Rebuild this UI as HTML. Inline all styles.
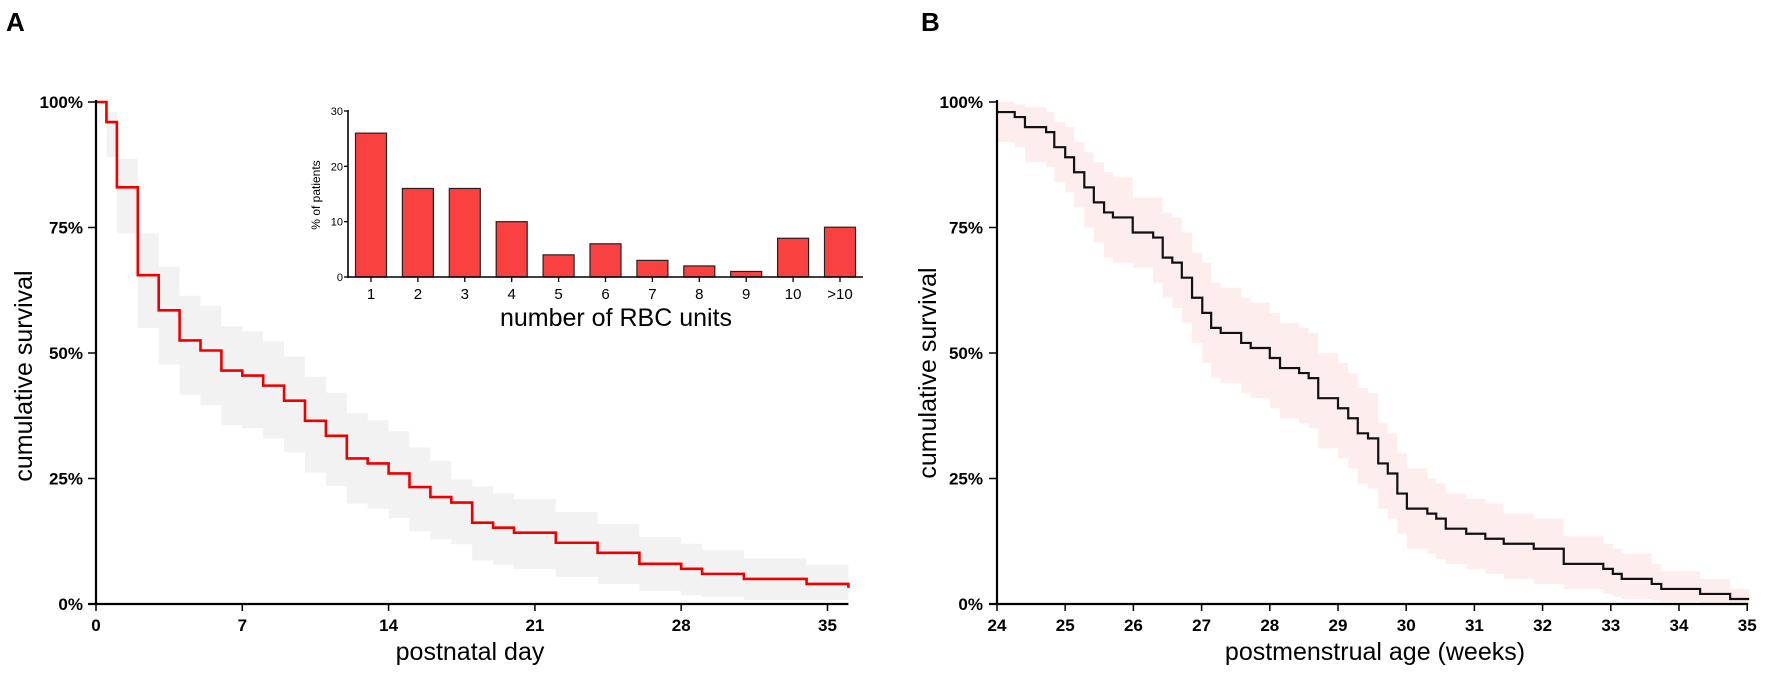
<!DOCTYPE html>
<html>
<head>
<meta charset="utf-8">
<style>
html,body{margin:0;padding:0;background:#fff;}
svg{display:block;}
text{font-family:"Liberation Sans",Arial,sans-serif;fill:#000;}
.tb{font-weight:bold;font-size:17px;}
</style>
</head>
<body>
<svg id="fig" width="1772" height="682" viewBox="0 0 1772 682" xmlns="http://www.w3.org/2000/svg"></svg>
<script>
// ---- Panel A data (postnatal day) ----
const aTimes = [0,0.5,1,2,3,4,5,6,7,8,9,10,11,12,13,14,15,16,17,18,19,20,22,24,26,28,29,31,34];
const aValues = [100,96,83,65.5,58.5,52.5,50.5,46.5,45.5,43.5,40.5,36.5,33.5,29,28,26,23.3,21.3,20.2,16.2,15.2,14.2,12.2,10.2,8,7,6,5,4];
const aUpper = [100,98,88.7,73.8,67.2,61.4,59.4,55.3,54.3,52.3,49.3,45.3,42.1,38,36.6,34.4,31.2,28.5,24.8,23.4,22,20.9,18.3,15.9,13.3,12,10.7,9.1,7.8];
const aLower = [100,89,73.8,55,47.7,41.7,39.6,35.6,35,33,30.2,26.2,23.5,20,19,17.1,14.5,12.9,11.9,8.7,7.8,7,5.4,4,2.6,1.8,1.4,0.8,0.8];
const aEnd = 36;
const aEndValue = 3.2;
const aXTicks = [0,7,14,21,28,35];
const yTicks = [0,25,50,75,100];
// ---- Inset data ----
const rbcCategories = ["1","2","3","4","5","6","7","8","9","10",">10"];
const rbcValues = [26,16,16,10,4,6,3,2,1,7,9];
const rbcYTicks = [0,10,20,30];
// ---- Panel B data (postmenstrual weeks) ----
const bTimes = [24,24.26,24.41,24.72,24.84,25.00,25.13,25.28,25.42,25.57,25.70,25.99,26.29,26.43,26.57,26.71,26.86,27.01,27.14,27.28,27.58,27.72,28.00,28.15,28.43,28.57,28.71,29.00,29.15,29.29,29.44,29.59,29.73,29.87,30.01,30.31,30.44,30.58,30.88,31.16,31.43,31.87,32.31,32.89,33.03,33.16,33.60,33.74,34.31,34.75];
const bValues = [98,97,95,94,91,89,86,83,80,78,77,74,73,69,68,65,61,58,55,54,52,51,49,47,46,45,41,39,37,34,33,28,26,22,19,18,17,15,14,13,12,11,8,7,6,5,4,3,2,1];
const bUpper = [100,99.5,99,98,96,95,92,90,88,86,85,81,81,78,77,74,70,68,64,63,61,60,58,56,55,54,50,48,46,43,42,36,34,30,27,25,24,22,21,20,18,17,13.5,12,11,10,8,6.5,5,3];
const bLower = [92,91,88,87,84,82,79,75,72,69,68,67,64,61,59,56,52,48,45,44,42,41,39,37,36,35,31,29,27,24,23,19,17,14,11,10,9,8,7,6,5,4,3,2,1.5,1,0.7,0.5,0.3,0.2];
const bEnd = 35.03;
const bXTicks = [24,25,26,27,28,29,30,31,32,33,34,35];

const NS = "http://www.w3.org/2000/svg";
const svg = document.getElementById("fig");
function mk(tag, attrs, parent){
  const e = document.createElementNS(NS, tag);
  for (const k in attrs) e.setAttribute(k, attrs[k]);
  (parent||svg).appendChild(e);
  return e;
}
function txt(s, attrs, parent){ const e = mk("text", attrs, parent); e.textContent = s; return e; }

// axis functions
const Y0 = 604, Y100 = 102;
const yPct = v => Y0 - (Y0 - Y100) * v / 100;
const axA = d => 96 + d * 20.9;
const axB = w => 997 + (w - 24) * 68.2;

function band(times, up, lo, end, xf, fill, name){
  let top = "", bot = "";
  for (let i = 0; i < times.length; i++){
    const x0 = xf(times[i]), x1 = xf(i+1 < times.length ? times[i+1] : end);
    top += (i===0 ? "M" : "L") + x0 + "," + yPct(up[i]) + "L" + x1 + "," + yPct(up[i]);
  }
  for (let i = times.length-1; i >= 0; i--){
    const x0 = xf(times[i]), x1 = xf(i+1 < times.length ? times[i+1] : end);
    bot += "L" + x1 + "," + yPct(lo[i]) + "L" + x0 + "," + yPct(lo[i]);
  }
  const p = mk("path", {d: top + bot + "Z", fill: fill, stroke: "none"});
  
  
}
function steps(times, vals, end, endVal, xf, color, w, name){
  let d = "M" + xf(times[0]) + "," + yPct(vals[0]);
  for (let i = 1; i < times.length; i++){
    d += "L" + xf(times[i]) + "," + yPct(vals[i-1]) + "L" + xf(times[i]) + "," + yPct(vals[i]);
  }
  d += "L" + xf(end) + "," + yPct(vals[vals.length-1]);
  if (endVal !== null) d += "L" + xf(end) + "," + yPct(endVal);
  const p = mk("path", {d: d, fill: "none", stroke: color, "stroke-width": w, "stroke-linejoin": "miter"});
  
  
}
function axes(xAxisX, xEndPx, xTicks, xf, labelEnd, prefix){
  const ya = mk("line", {x1: xAxisX, y1: Y100-2, x2: xAxisX, y2: Y0+1, stroke: "#000", "stroke-width": 2.2});
  
  
  const xa = mk("line", {x1: xAxisX-8, y1: Y0, x2: xEndPx, y2: Y0, stroke: "#000", "stroke-width": 2.2});
  
  
  yTicks.forEach(v => {
    mk("line", {x1: xAxisX-8, y1: yPct(v), x2: xAxisX, y2: yPct(v), stroke: "#000", "stroke-width": 1.5});
    const t = txt(v + "%", {x: labelEnd, y: yPct(v) + 6, "text-anchor": "end", class: "tb"});
    
    
  });
  xTicks.forEach(v => {
    mk("line", {x1: xf(v), y1: Y0, x2: xf(v), y2: Y0+7, stroke: "#000", "stroke-width": 1.5});
    const t = txt(String(v), {x: xf(v), y: 631, "text-anchor": "middle", class: "tb"});
    
    
  });
}

// ---------- Panel A ----------
const la = txt("A", {x: 6, y: 31, "font-size": 26, "font-weight": "bold"});


band(aTimes, aUpper, aLower, aEnd, axA, "#f2f2f2", "panel-a-ci-band");
steps(aTimes, aValues, aEnd, aEndValue, axA, "#ee0000", 2.6, "panel-a-survival-line");
axes(96, axA(36), aXTicks, axA, 83, "panel-a");
const ayt = txt("cumulative survival", {x: 0, y: 0, "font-size": 25, "text-anchor": "middle", transform: "translate(32,376) rotate(-90)"});


const axt = txt("postnatal day", {x: 470, y: 660, "font-size": 25, "text-anchor": "middle"});



// ---------- Inset bar chart ----------
const IX0 = 348, IY0 = 277, IY30 = 111, IXEND = 863;
const iy = v => IY0 - (IY0 - IY30) * v / 30;
const ix = i => 371 + i * 46.9;
rbcCategories.forEach((c, i) => {
  const r = mk("rect", {x: ix(i) - 15.5, y: iy(rbcValues[i]), width: 31, height: IY0 - iy(rbcValues[i]), fill: "#fa4141", stroke: "#222", "stroke-width": 1.2});
  
  
  mk("line", {x1: ix(i), y1: IY0, x2: ix(i), y2: IY0+5, stroke: "#000", "stroke-width": 1.3});
  const t = txt(c, {x: ix(i), y: 299, "font-size": 15, "text-anchor": "middle"});
  
  
});
const iya = mk("line", {x1: IX0, y1: IY30-1, x2: IX0, y2: IY0+1, stroke: "#000", "stroke-width": 1.6});


const ixa = mk("line", {x1: IX0, y1: IY0, x2: IXEND, y2: IY0, stroke: "#000", "stroke-width": 1.6});


rbcYTicks.forEach(v => {
  mk("line", {x1: IX0-4, y1: iy(v), x2: IX0, y2: iy(v), stroke: "#000", "stroke-width": 1.3});
  const t = txt(String(v), {x: IX0-5, y: iy(v)+4, "font-size": 11, "text-anchor": "end"});
  
  
});
const iyt = txt("% of patients", {x: 0, y: 0, "font-size": 12, "text-anchor": "middle", transform: "translate(320,195) rotate(-90)"});


const ixt = txt("number of RBC units", {x: 616, y: 326, "font-size": 25, "text-anchor": "middle"});



// ---------- Panel B ----------
const lb = txt("B", {x: 921, y: 31, "font-size": 26, "font-weight": "bold"});


band(bTimes, bUpper, bLower, bEnd, axB, "#fdeded", "panel-b-ci-band");
steps(bTimes, bValues, bEnd, null, axB, "#111", 2.2, "panel-b-survival-line");
axes(997, axB(35) + 1, bXTicks, axB, 983, "panel-b");
const byt = txt("cumulative survival", {x: 0, y: 0, "font-size": 25, "text-anchor": "middle", transform: "translate(936,373) rotate(-90)"});


const bxt = txt("postmenstrual age (weeks)", {x: 1375, y: 660, "font-size": 25, "text-anchor": "middle"});


</script>
</body>
</html>
